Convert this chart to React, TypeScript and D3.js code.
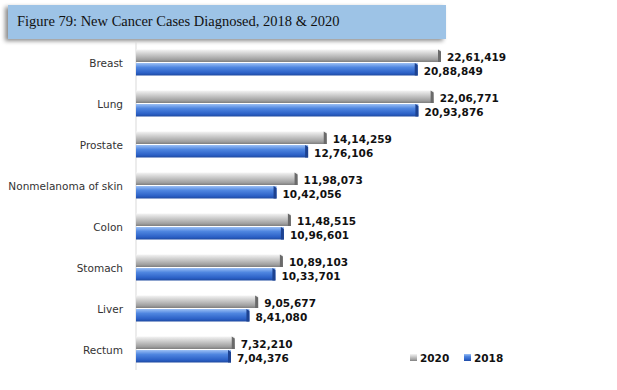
import React from "react";
import * as d3 from "d3";

const categories = [
  "Breast",
  "Lung",
  "Prostate",
  "Nonmelanoma of skin",
  "Colon",
  "Stomach",
  "Liver",
  "Rectum",
];
const cases2020 = [2261419, 2206771, 1414259, 1198073, 1148515, 1089103, 905677, 732210];
const cases2018 = [2088849, 2093876, 1276106, 1042056, 1096601, 1033701, 841080, 704376];
const seriesNames = ["2020", "2018"];
const title = "Figure 79: New Cancer Cases Diagnosed, 2018 & 2020";

const W = 617;
const H = 390;
const left = 136;
const top = 42;
const bottom = 370;

const fmt = (v: number) => {
  // Indian grouping, e.g. 22,61,419
  const s = String(v);
  const last3 = s.slice(-3);
  let rest = s.slice(0, -3);
  const parts: string[] = [];
  while (rest.length > 2) {
    parts.unshift(rest.slice(-2));
    rest = rest.slice(0, -2);
  }
  if (rest) parts.unshift(rest);
  return parts.length ? parts.join(",") + "," + last3 : last3;
};

export default function App() {
  const x = d3.scaleLinear().domain([0, 2261419]).range([left, 441]);
  const y = d3.scaleBand().domain(categories).range([top, bottom]);
  const barH = 13.5;
  const labelFont = "'DejaVu Sans', sans-serif";

  return (
    <svg width={W} height={H} style={{ position: "absolute", left: 0, top: 0 }}>
      <defs>
        <linearGradient id="gGray" x1="0" y1="0" x2="0" y2="1">
          <stop offset="0" stopColor="#f4f4f4" />
          <stop offset="0.35" stopColor="#cfcfcf" />
          <stop offset="0.8" stopColor="#a0a0a0" />
          <stop offset="1" stopColor="#7e7e7e" />
        </linearGradient>
        <linearGradient id="gBlue" x1="0" y1="0" x2="0" y2="1">
          <stop offset="0" stopColor="#9cc0f5" />
          <stop offset="0.35" stopColor="#4f86e0" />
          <stop offset="0.8" stopColor="#2b60c6" />
          <stop offset="1" stopColor="#1f4aa0" />
        </linearGradient>
        <filter id="sh" x="-5%" y="-20%" width="110%" height="150%">
          <feDropShadow dx="-3" dy="2" stdDeviation="2" floodColor="#000" floodOpacity="0.45" />
        </filter>
      </defs>
      <rect x={0} y={0} width={W} height={H} fill="#fff" />
      <rect x={8} y={5} width={438} height={34} fill="#9dc3e6" filter="url(#sh)" />
      <text x={17} y={26} fontFamily="'Liberation Serif', serif" fontSize={14.5} fill="#111">
        {title}
      </text>
      <line x1={left} x2={left} y1={top} y2={bottom} stroke="#d9d9d9" />
      {categories.map((c, i) => {
        const cy = (y(c) as number) + y.bandwidth() / 2;
        const vals = [cases2020[i], cases2018[i]];
        return (
          <g key={c}>
            <text
              x={123}
              y={cy + 4}
              textAnchor="end"
              fontFamily={labelFont}
              fontSize={10.5}
              fill="#333"
            >
              {c}
            </text>
            {vals.map((v, j) => {
              const by = cy - barH + j * barH + 0.5;
              const xe = x(v);
              return (
                <g key={j}>
                  <rect
                    x={left}
                    y={by}
                    width={xe - left}
                    height={barH - 1}
                    fill={j === 0 ? "url(#gGray)" : "url(#gBlue)"}
                  />
                  <path
                    d={`M${xe - 3},${by} L${xe},${by + 2} L${xe},${by + barH - 1} L${xe - 3},${by + barH - 1} Z`}
                    fill={j === 0 ? "#6a6a6a" : "#1d4290"}
                  />
                  <text
                    x={xe + 6}
                    y={by + barH - 2}
                    fontFamily={labelFont}
                    fontWeight="bold"
                    fontSize={10.5}
                    fill="#111"
                  >
                    {fmt(v)}
                  </text>
                </g>
              );
            })}
          </g>
        );
      })}
      {seriesNames.map((s, i) => {
        const lx = 410 + i * 54;
        return (
          <g key={s}>
            <rect x={lx} y={354} width={7} height={7} fill={i === 0 ? "url(#gGray)" : "url(#gBlue)"} />
            <text x={lx + 10} y={362} fontFamily={labelFont} fontWeight="bold" fontSize={10.5} fill="#111">
              {s}
            </text>
          </g>
        );
      })}
    </svg>
  );
}
